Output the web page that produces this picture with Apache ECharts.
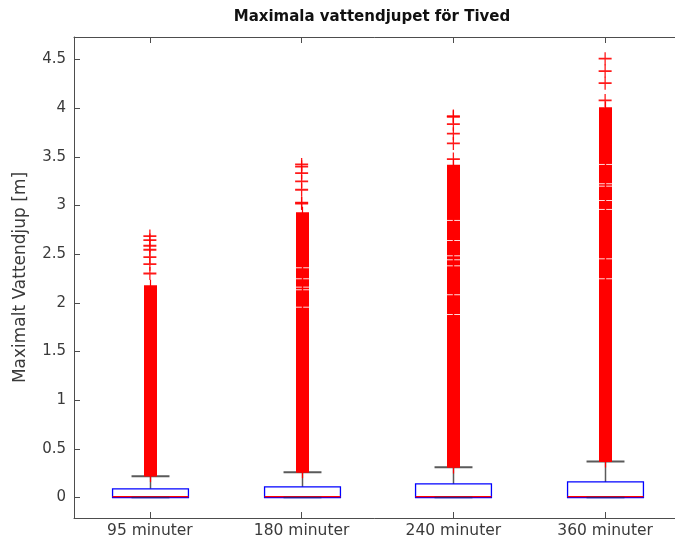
<!DOCTYPE html>
<html><head><meta charset="utf-8">
<script src="https://cdn.jsdelivr.net/npm/echarts@6/dist/echarts.min.js"></script>
<style>html,body{margin:0;padding:0;background:#fff}#c{width:675px;height:548px}</style>
</head><body><div id="c"></div>
<script>
const categories = ['95 minuter', '180 minuter', '240 minuter', '360 minuter'];
const yTicks = [0, 0.5, 1, 1.5, 2, 2.5, 3, 3.5, 4, 4.5];
// box statistics: [lower whisker, Q1, median, Q3, upper whisker]
const boxStats = [
  [0, 0, 0.01, 0.09, 0.22],
  [0, 0, 0.01, 0.11, 0.26],
  [0, 0, 0.01, 0.14, 0.31],
  [0, 0, 0.01, 0.16, 0.37]
];
// continuous runs of outliers (markers so dense they merge): [low, high]
const denseOutliers = [[0.225, 2.17], [0.265, 2.92], [0.315, 3.41], [0.375, 4.0]];
// small empty levels inside the dense runs
const denseGaps = [
  [],
  [1.955, 2.134, 2.161, 2.247, 2.360],
  [1.880, 2.083, 2.380, 2.442, 2.483, 2.640, 2.846],
  [2.247, 2.452, 2.959, 3.051, 3.198, 3.223, 3.421]
];
// isolated outliers above the dense runs
const sparseOutliers = [
  [2.301, 2.397, 2.469, 2.545, 2.586, 2.644, 2.685],
  [3.020, 3.028, 3.161, 3.247, 3.332, 3.398, 3.421],
  [3.476, 3.637, 3.737, 3.835, 3.910, 3.918],
  [4.079, 4.256, 4.380, 4.507]
];

const FONT = '"DejaVu Sans", Verdana, sans-serif';
const AX = '#4d4d4d';
const TXT = '#3a3a3a';
const MK = 13; // marker size px

const boxData = boxStats.map((s, i) => [i].concat(s));
const denseData = denseOutliers.map((r, i) => [i, r[0], r[1]]);
const gapData = [];
denseGaps.forEach((g, i) => g.forEach(v => gapData.push([i, v])));
const sparseData = [];
sparseOutliers.forEach((g, i) => g.forEach(v => sparseData.push([i, v])));

function renderBox(params, api) {
  const i = api.value(0);
  const lw = api.value(1), q1 = api.value(2), med = api.value(3), q3 = api.value(4), uw = api.value(5);
  const band = api.size([1, 0])[0];
  const c = Math.round(api.coord([i, 0])[0]) + 0.5;
  const half = band * 0.25, capHalf = band * 0.125;
  const y = v => api.coord([i, v])[1];
  return {
    type: 'group', children: [
      { type: 'line', shape: { x1: c, y1: y(q3), x2: c, y2: y(uw) }, style: { stroke: '#5a5a5a', lineWidth: 1.5 } },
      { type: 'line', shape: { x1: c - capHalf, y1: y(uw), x2: c + capHalf, y2: y(uw) }, style: { stroke: '#5a5a5a', lineWidth: 2 } },
      { type: 'rect', shape: { x: c - half, y: y(q3), width: 2 * half, height: y(q1) - y(q3) }, style: { fill: 'none', stroke: '#0000ff', lineWidth: 1.3 } },
      { type: 'line', shape: { x1: c - half, y1: y(med), x2: c + half, y2: y(med) }, style: { stroke: '#ff0000', lineWidth: 1.2 } },
      { type: 'line', shape: { x1: c - capHalf, y1: y(lw), x2: c + capHalf, y2: y(lw) }, style: { stroke: '#2a1a8a', lineWidth: 1.5 } }
    ]
  };
}

function renderDense(params, api) {
  const i = api.value(0);
  const c = Math.round(api.coord([i, 0])[0]) + 0.5;
  const yLo = api.coord([i, api.value(1)])[1];
  const yHi = api.coord([i, api.value(2)])[1];
  return {
    type: 'group', children: [
      { type: 'rect', shape: { x: c - MK / 2, y: yHi - 0.9, width: MK, height: yLo - yHi + 1.8 }, style: { fill: '#ff0000' } },
      { type: 'line', shape: { x1: c, y1: yHi - MK / 2, x2: c, y2: yLo + MK / 2 }, style: { stroke: '#ff0000', lineWidth: 1.2 } }
    ]
  };
}

function renderGap(params, api) {
  const i = api.value(0);
  const c = Math.round(api.coord([i, 0])[0]) + 0.5;
  const yv = api.coord([i, api.value(1)])[1];
  return {
    type: 'group', children: [
      { type: 'rect', shape: { x: c - MK / 2 - 0.5, y: yv - 0.5, width: MK / 2 - 0.2, height: 1 }, style: { fill: 'rgba(255,255,255,0.85)' } },
      { type: 'rect', shape: { x: c + 0.7, y: yv - 0.5, width: MK / 2 - 0.2, height: 1 }, style: { fill: 'rgba(255,255,255,0.85)' } }
    ]
  };
}

const plusPath = 'path://M0,5.6H13V7.4H0Z M5.85,0H7.15V13H5.85Z';

const chart = echarts.init(document.getElementById('c'), null, { renderer: 'canvas' });
chart.setOption({
  animation: false,
  backgroundColor: '#ffffff',
  graphic: [{
    type: 'text', x: 372, y: 10,
    style: { text: 'Maximala vattendjupet för Tived', font: 'bold 15px ' + FONT, fill: '#111', textAlign: 'center', textVerticalAlign: 'top' }
  }],
  grid: { left: 74, right: -6, top: 37, bottom: 30, containLabel: false, outerBoundsMode: 'none' },
  xAxis: [{
    type: 'category', data: categories, boundaryGap: true, position: 'bottom',
    axisLine: { show: true, onZero: false, lineStyle: { color: AX, width: 1 } },
    axisTick: { show: true, inside: true, length: 6, alignWithLabel: true, lineStyle: { color: AX } },
    axisLabel: { color: TXT, fontSize: 15.5, fontFamily: FONT, margin: 5 },
    splitLine: { show: false }
  }, {
    type: 'category', data: categories, boundaryGap: true, position: 'top',
    axisLine: { show: true, onZero: false, lineStyle: { color: AX, width: 1 } },
    axisTick: { show: true, inside: true, length: 6, alignWithLabel: true, lineStyle: { color: AX } },
    axisLabel: { show: false }, splitLine: { show: false }
  }],
  yAxis: [{
    type: 'value', min: -0.21, max: 4.73, position: 'left',
    axisLine: { show: true, onZero: false, lineStyle: { color: AX, width: 1 } },
    axisTick: { show: true, inside: true, length: 6, customValues: yTicks, lineStyle: { color: AX } },
    axisLabel: { customValues: yTicks, color: TXT, fontSize: 15, fontFamily: FONT, margin: 8 },
    splitLine: { show: false },
    name: 'Maximalt Vattendjup [m]', nameLocation: 'middle', nameGap: 45,
    nameTextStyle: { color: TXT, fontSize: 17, fontFamily: FONT }
  }, {
    type: 'value', min: -0.21, max: 4.73, position: 'right',
    axisLine: { show: true, onZero: false, lineStyle: { color: AX, width: 1 } },
    axisTick: { show: true, inside: true, length: 6, customValues: yTicks, lineStyle: { color: AX } },
    axisLabel: { show: false }, splitLine: { show: false }
  }],
  series: [
    { type: 'custom', name: 'box', renderItem: renderBox, data: boxData, xAxisIndex: 0, yAxisIndex: 0, z: 2,
      encode: { x: 0, y: [1, 2, 3, 4, 5] } },
    { type: 'custom', name: 'dense', renderItem: renderDense, data: denseData, z: 3, encode: { x: 0, y: [1, 2] } },
    { type: 'custom', name: 'gaps', renderItem: renderGap, data: gapData, z: 4, encode: { x: 0, y: 1 } },
    { type: 'scatter', name: 'outliers', data: sparseData, symbol: plusPath, symbolSize: MK, z: 5,
      itemStyle: { color: '#ff0000', opacity: 0.9 } }
  ]
});
</script></body></html>
